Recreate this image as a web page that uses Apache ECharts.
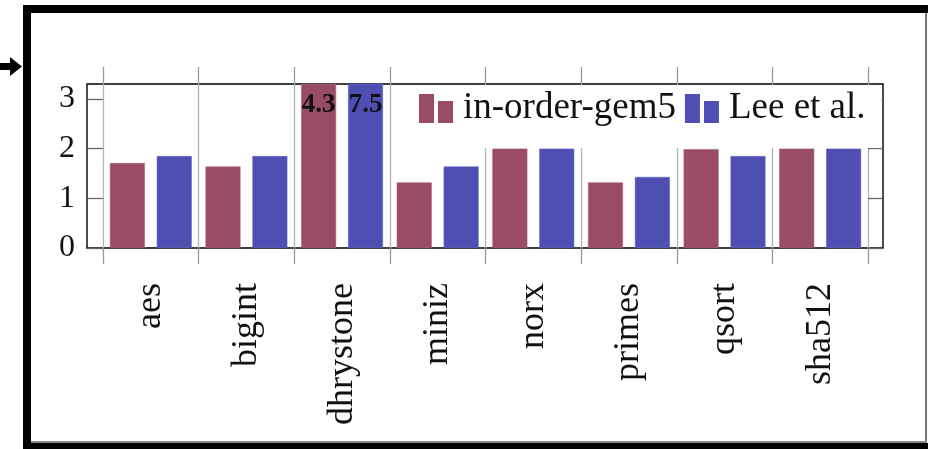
<!DOCTYPE html>
<html>
<head>
<meta charset="utf-8">
<script src="https://cdn.jsdelivr.net/npm/echarts@6/dist/echarts.min.js"></script>
<style>
  html, body { margin: 0; padding: 0; background: #fff; }
  #chart { width: 928px; height: 449px; }
</style>
</head>
<body>
<div id="chart"></div>
<script>
// Benchmarks and normalised results for the two simulators
const categories = ['aes', 'bigint', 'dhrystone', 'miniz', 'norx', 'primes', 'qsort', 'sha512'];
const gem5Values = [1.71, 1.64, 4.3, 1.32, 2.0, 1.32, 1.99, 2.0];
const leeValues  = [1.85, 1.85, 7.5, 1.64, 2.0, 1.43, 1.85, 2.0];
const yTicks = [0, 1, 2, 3];
const yMin = 0;
const yMax = 3.3;

const seriesNames = ['in-order-gem5', 'Lee et al.'];
const gem5Color = '#9a4b66';
const leeColor = '#4e4eb3';

const serif = '"Liberation Serif", "DejaVu Serif", serif';
const gridColor = '#b4b4b4';

// legend glyph: two bars of different height
const legendIcon = 'path://M0,0H15V29H0ZM19,7H34V29H19Z';

const chart = echarts.init(document.getElementById('chart'), null, { renderer: 'canvas' });

// only bars taller than the axis range get their value printed
function overflowLabel(p) {
  return p.value > yMax ? String(p.value) : '';
}

const option = {
  animation: false,
  backgroundColor: '#fff',
  grid: [
    // outer frame that carries the y axis labels
    { left: 87, right: 45, top: 84, bottom: 201, show: true, borderColor: '#000', borderWidth: 1.4, backgroundColor: 'transparent' },
    // inner band holding the categories
    { left: 103, right: 60, top: 84, bottom: 201 }
  ],
  xAxis: [
    {
      type: 'category', gridIndex: 1, data: categories, position: 'bottom',
      axisLine: { show: false },
      axisTick: { show: true, length: 16, lineStyle: { color: '#999', width: 1.3 } },
      splitLine: { show: true, showMinLine: true, showMaxLine: true, lineStyle: { color: gridColor, width: 1.3 } },
      axisLabel: { rotate: 90, margin: 35, fontFamily: serif, fontSize: 36, color: '#111' }
    },
    {
      type: 'category', gridIndex: 1, data: categories, position: 'top',
      axisLine: { show: false },
      axisTick: { show: true, length: 17, lineStyle: { color: '#999', width: 1.3 } },
      axisLabel: { show: false }
    },
    { type: 'value', gridIndex: 0, show: false }
  ],
  yAxis: [
    {
      type: 'value', gridIndex: 0, min: yMin, max: yMax, position: 'left',
      axisLine: { show: false },
      splitLine: { show: false },
      axisTick: { show: true, inside: true, length: 16, customValues: yTicks, lineStyle: { color: '#666', width: 1.3 } },
      axisLabel: { customValues: yTicks, margin: 12, fontFamily: serif, fontSize: 32, color: '#111' }
    },
    {
      type: 'value', gridIndex: 0, min: yMin, max: yMax, position: 'right',
      axisLine: { show: false },
      splitLine: { show: false },
      axisTick: { show: true, inside: true, length: 15, customValues: yTicks, lineStyle: { color: '#666', width: 1.3 } },
      axisLabel: { show: false }
    },
    {
      type: 'value', gridIndex: 1, min: yMin, max: yMax, show: false,
      splitLine: { show: false }
    }
  ],
  legend: {
    data: seriesNames,
    selectedMode: false,
    left: 397, top: 85,
    padding: [5, 16, 21, 22],
    backgroundColor: '#fff',
    borderWidth: 0,
    icon: legendIcon,
    itemWidth: 34, itemHeight: 29,
    itemGap: 9,
    itemStyle: { borderWidth: 0 },
    textStyle: { fontFamily: serif, fontSize: 37, lineHeight: 36, color: '#111', padding: [0, 0, 0, 5] },
    z: 5
  },
  series: [
    {
      name: seriesNames[0], type: 'bar', xAxisIndex: 0, yAxisIndex: 2,
      data: gem5Values, barWidth: 35, barGap: '34%', clip: true,
      itemStyle: { color: gem5Color, borderColor: '#a86379', borderWidth: 0.6 },
      label: { show: true, position: 'insideTop', distance: 8, formatter: overflowLabel,
               fontFamily: serif, fontSize: 27, fontWeight: 'bold', color: '#111' }
    },
    {
      name: seriesNames[1], type: 'bar', xAxisIndex: 0, yAxisIndex: 2,
      data: leeValues, barWidth: 35, barGap: '34%', clip: true,
      itemStyle: { color: leeColor, borderColor: '#6767c2', borderWidth: 0.6 },
      label: { show: true, position: 'insideTop', distance: 8, formatter: overflowLabel,
               fontFamily: serif, fontSize: 27, fontWeight: 'bold', color: '#111' }
    }
  ],
  graphic: [
    // page frame
    { type: 'rect', shape: { x: 23, y: 5, width: 8, height: 444 }, style: { fill: '#000' }, z: 10 },
    { type: 'rect', shape: { x: 23, y: 5, width: 905, height: 8 }, style: { fill: '#000' }, z: 10 },
    { type: 'rect', shape: { x: 925, y: 13, width: 2, height: 430 }, style: { fill: '#777' }, z: 10 },
    { type: 'rect', shape: { x: 31, y: 441, width: 896, height: 2 }, style: { fill: '#888' }, z: 10 },
    { type: 'rect', shape: { x: 23, y: 443, width: 905, height: 6 }, style: { fill: '#000' }, z: 10 },
    // pointer arrow on the left edge
    { type: 'rect', shape: { x: 0, y: 63, width: 11, height: 7 }, style: { fill: '#000' }, z: 10 },
    { type: 'polygon', shape: { points: [[10, 57], [22, 66.5], [10, 76]] }, style: { fill: '#000' }, z: 10 }
  ]
};

chart.setOption(option);
</script>
</body>
</html>
